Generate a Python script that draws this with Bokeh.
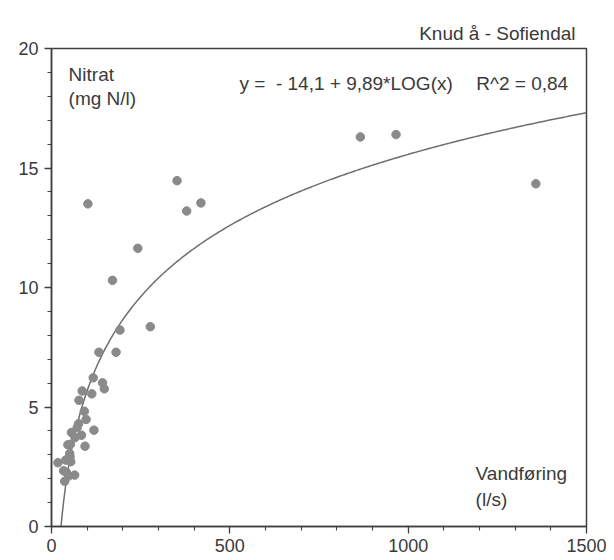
import numpy as np
from bokeh.plotting import figure
from bokeh.models import Range1d, Label, FixedTicker
from bokeh.embed import file_html
from bokeh.resources import INLINE

# Measured points: discharge (l/s) and nitrate (mg N/l)
flow = [102, 352, 379, 419, 866, 966, 1358, 242, 171, 192, 277, 133, 181,
        117, 143, 148, 113, 86, 77, 92, 97, 119, 94, 76, 72, 84, 56, 66,
        46, 53, 51, 52, 18, 40, 54, 34, 42, 65, 37, 49]
nitrate = [13.5, 14.47, 13.2, 13.54, 16.3, 16.4, 14.34, 11.64, 10.3, 8.22, 8.36, 7.29, 7.29,
           6.22, 6.01, 5.76, 5.55, 5.67, 5.28, 4.82, 4.48, 4.03, 3.36, 4.3, 4.14, 3.82, 3.93, 3.72,
           3.42, 3.44, 3.05, 2.92, 2.67, 2.78, 2.71, 2.33, 2.26, 2.15, 1.89, 2.12]

# Fitted regression stated on the chart: y = a + b*log10(x)
fit_a = -14.1
fit_b = 9.89

x_ticks = [0, 500, 1000, 1500]
y_ticks = [0, 5, 10, 15, 20]

FONT = "Liberation Sans"
TXT = "#3a3a3a"
AX = "#404040"

p = figure(width=606, height=556, output_backend="svg", toolbar_location=None,
           x_range=Range1d(0, 1500), y_range=Range1d(0, 20),
           min_border_left=51, min_border_right=20, min_border_top=48, min_border_bottom=30)
p.background_fill_color = "white"
p.border_fill_color = "white"
p.outline_line_color = AX
p.outline_line_width = 1.5
p.grid.visible = False

p.title.text = "Knud å - Sofiendal"
p.title.align = "right"
p.title.text_font = FONT
p.title.text_font_size = "19px"
p.title.text_font_style = "normal"
p.title.text_color = TXT
p.title.offset = 11

for ax, ticks, minor in ((p.xaxis[0], x_ticks, list(range(0, 1501, 100))),
                         (p.yaxis[0], y_ticks, list(range(0, 21, 1)))):
    ax.ticker = FixedTicker(ticks=ticks, minor_ticks=minor)
    ax.axis_line_color = AX
    ax.axis_line_width = 1.5
    ax.major_tick_line_color = AX
    ax.minor_tick_line_color = AX
    ax.major_tick_line_width = 1.3
    ax.minor_tick_line_width = 1.1
    ax.major_tick_in = 0
    ax.major_tick_out = 7
    ax.minor_tick_in = 0
    ax.minor_tick_out = 4
    ax.major_label_text_font = FONT
    ax.major_label_text_font_size = "18px"
    ax.major_label_text_color = TXT
p.xaxis.major_label_standoff = 5
p.yaxis.major_label_standoff = 6

# fitted curve from the stated coefficients
x0 = 10 ** (-fit_a / fit_b)
xs = np.linspace(x0, 1500, 400)
ys = fit_a + fit_b * np.log10(xs)
p.line(xs, ys, line_color="#6e6e6e", line_width=1.5)

p.scatter(flow, nitrate, size=8.5, fill_color="#8a8a8a", line_color="#8a8a8a")

def lab(x, y, t):
    p.add_layout(Label(x=x, y=y, text=t, text_font=FONT, text_font_size="19px",
                       text_color=TXT, text_baseline="middle", text_align="left"))

lab(48, 18.9, "Nitrat")
lab(48, 17.9, "(mg N/l)")
lab(527, 18.55, "y =\u00a0\u00a0- 14,1 + 9,89*LOG(x)")
lab(1191, 18.55, "R^2 = 0,84")
lab(1189, 2.2, "Vandføring")
lab(1189, 1.13, "(l/s)")

open("out.html", "w").write(file_html(p, INLINE))
